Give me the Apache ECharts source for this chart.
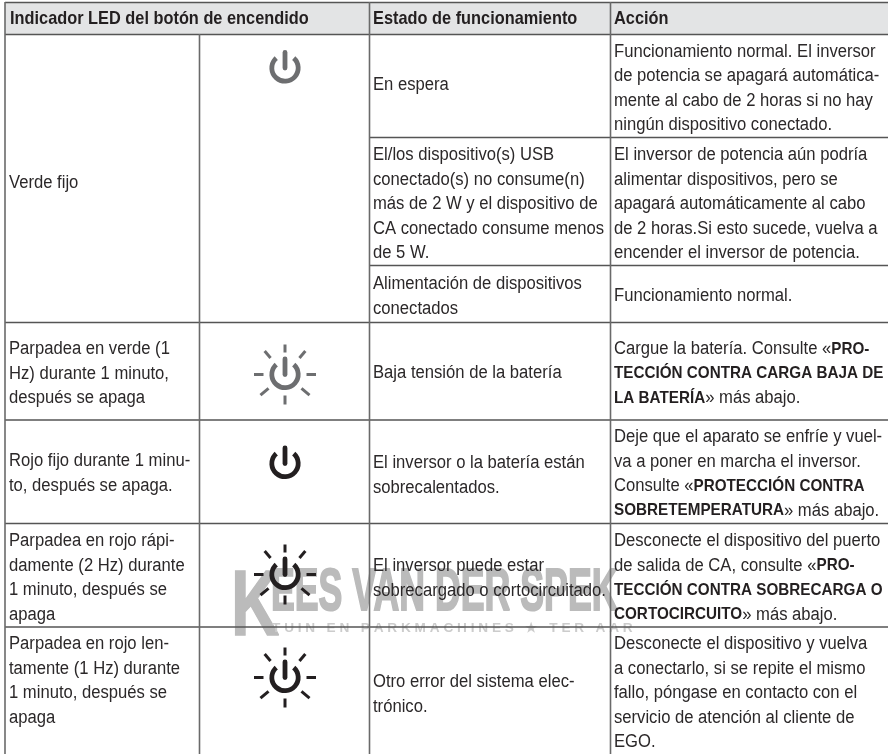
<!DOCTYPE html>
<html><head><meta charset="utf-8">
<style>html,body{margin:0;padding:0;background:#fff}#c{width:888px;height:754px}</style>
<script src="https://cdn.jsdelivr.net/npm/echarts@6/dist/echarts.min.js"></script>
</head><body><div id="c"></div>
<script>
var headers = [[10,19.5,'Indicador LED del botón de encendido'],[373,19.5,'Estado de funcionamiento'],[614,19.5,'Acción']];
var col0 = [
 [9,183,['Verde fijo']],
 [9,349.5,['Parpadea en verde (1','Hz) durante 1 minuto,','después se apaga']],
 [9,461.5,['Rojo fijo durante 1 minu-','to, después se apaga.']],
 [9,541.5,['Parpadea en rojo rápi-','damente (2 Hz) durante','1 minuto, después se','apaga']],
 [9,644.5,['Parpadea en rojo len-','tamente (1 Hz) durante','1 minuto, después se','apaga']]
];
var col2 = [
 [373,85.5,['En espera']],
 [373,155.5,['El/los dispositivo(s) USB','conectado(s) no consume(n)','más de 2 W y el dispositivo de','CA conectado consume menos','de 5 W.']],
 [373,284.5,['Alimentación de dispositivos','conectados']],
 [373,373.5,['Baja tensión de la batería']],
 [373,463.5,['El inversor o la batería están','sobrecalentados.']],
 [373,566.5,['El inversor puede estar','sobrecargado o cortocircuitado.']],
 [373,682.5,['Otro error del sistema elec-','trónico.']]
];
var col3 = [
 [614,52,['Funcionamiento normal. El inversor','de potencia se apagará automática-','mente al cabo de 2 horas si no hay','ningún dispositivo conectado.']],
 [614,155.5,['El inversor de potencia aún podría','alimentar dispositivos, pero se','apagará automáticamente al cabo','de 2 horas.Si esto sucede, vuelva a','encender el inversor de potencia.']],
 [614,296.5,['Funcionamiento normal.']],
 [614,349.5,['Cargue la batería. Consulte «{b|PRO-}','{b|TECCIÓN CONTRA CARGA BAJA DE}','{b|LA BATERÍA}» más abajo.']],
 [614,437.5,['Deje que el aparato se enfríe y vuel-','va a poner en marcha el inversor.','Consulte «{b|PROTECCIÓN CONTRA}','{b|SOBRETEMPERATURA}» más abajo.']],
 [614,541.5,['Desconecte el dispositivo del puerto','de salida de CA, consulte «{b|PRO-}','{b|TECCIÓN CONTRA SOBRECARGA O}','{b|CORTOCIRCUITO}» más abajo.']],
 [614,644.5,['Desconecte el dispositivo y vuelva','a conectarlo, si se repite el mismo','fallo, póngase en contacto con el','servicio de atención al cliente de','EGO.']]
];
var icons = [[285,68,0,0],[285,374.5,0,1],[285,463.5,1,0],[285,574.5,1,1],[285,677.5,1,1]];
var rules = [
 [5,2.5,888,2.5],[5,34.5,888,34.5],[369,137.5,888,137.5],[369,265.5,888,265.5],
 [5,322.5,888,322.5],[5,420,888,420],[5,523.5,888,523.5],[5,627,888,627],
 [5,2,5,754],[199.5,34,199.5,754],[369.5,2,369.5,754],[610.5,2,610.5,754]
];
var wmBig = 'K', wmMain = 'EES VAN DER SPEK', wmTag = 'T U I N   E N   P A R K M A C H I N E S   ★   T E R   A A R';
var LH = 24.4;
var FONT = '"Liberation Sans"';
var SIZE = 18, SX = 0.924, HEAD = 17.7, BOLD = 16.5;
function lines(cols){var o=[];cols.forEach(function(c){c[2].forEach(function(t,i){o.push([c[0],c[1]+i*LH,t]);});});return o;}
var bodyLines = lines(col0.concat(col2,col3));
var RAYS = [[90,22,30],[49,22,31],[0,21.5,31],[-40,21.5,32],[-90,21,30],[-140,21.5,32],[180,21.5,31],[131,22,31]];
var chart = echarts.init(document.getElementById('c'),null,{renderer:'canvas'});
chart.setOption({
 animation:false,
 grid:{left:0,right:0,top:0,bottom:0},
 xAxis:{type:'value',min:0,max:888,show:false},
 yAxis:{type:'value',min:0,max:754,inverse:true,show:false},
 series:[
  {type:'custom',silent:true,z:1,data:[[0]],clip:false,renderItem:function(p,api){
    var a=api.coord([5,2.5]),b=api.coord([888,34.5]);
    return {type:'rect',shape:{x:a[0],y:a[1],width:b[0]-a[0],height:b[1]-a[1]},style:{fill:'#e3e4e5'}};
  }},
  {type:'custom',silent:true,z:2,data:[[0]],renderItem:function(p,api){
    var s=api.coord([233,566]);
    var gray='#bbbbbb';
    return {type:'group',children:[
      {type:'text',x:s[0]-2,y:s[1]-3,scaleX:0.72,style:{text:wmBig,font:'bold 93px '+FONT,fill:gray,stroke:gray,lineWidth:1.5,verticalAlign:'top'}},
      {type:'text',x:s[0]+38,y:s[1]-3,scaleX:0.595,style:{text:wmMain,font:'bold 60px '+FONT,fill:gray,stroke:gray,lineWidth:2,verticalAlign:'top'}},
      {type:'text',x:s[0]+39,y:s[1]+56,scaleX:1.05,style:{text:wmTag,font:'bold 13px '+FONT,fill:'#cccccc',verticalAlign:'top'}}
    ]};
  }},
  {type:'custom',silent:true,z:3,data:rules,renderItem:function(p,api){
    var a=api.coord([api.value(0),api.value(1)]),b=api.coord([api.value(2),api.value(3)]);
    var v=a[0]===b[0];
    return {type:'line',shape:{x1:a[0],y1:a[1],x2:b[0],y2:b[1]},style:{stroke:v?'#6a6a6a':'#555',lineWidth:v?1.6:1.4}};
  }},
  {type:'custom',silent:true,z:4,data:icons,renderItem:function(p,api){
    var c=api.coord([api.value(0),api.value(1)]);
    var col=api.value(2)?'#231f20':'#6d6e70';
    var kids=[
      {type:'arc',shape:{cx:c[0],cy:c[1],r:13.2,startAngle:-Math.PI*0.27,endAngle:-Math.PI*0.73,clockwise:true},style:{stroke:col,fill:null,lineWidth:4.8}},
      {type:'line',shape:{x1:c[0],y1:c[1]-15.5,x2:c[0],y2:c[1]},style:{stroke:col,lineWidth:4.8,lineCap:'round'}}
    ];
    if(api.value(3)){RAYS.forEach(function(r){var t=r[0]*Math.PI/180,cx=Math.cos(t),sy=Math.sin(t);
      kids.push({type:'line',shape:{x1:c[0]+cx*r[1],y1:c[1]-sy*r[1],x2:c[0]+cx*r[2],y2:c[1]-sy*r[2]},style:{stroke:col,lineWidth:3}});});}
    return {type:'group',children:kids};
  }},
  {type:'custom',silent:true,z:5,data:headers.map(function(h){return [h[0],h[1]];}),renderItem:function(p,api){
    var c=api.coord([api.value(0),api.value(1)]);
    return {type:'text',x:c[0],y:c[1],scaleX:SX,style:{text:headers[p.dataIndex][2],font:'bold '+HEAD+'px '+FONT,fill:'#231f20',verticalAlign:'middle'}};
  }},
  {type:'custom',silent:true,z:5,data:bodyLines.map(function(l){return [l[0],l[1]];}),renderItem:function(p,api){
    var c=api.coord([api.value(0),api.value(1)]);
    return {type:'text',x:c[0],y:c[1],scaleX:SX,style:{text:bodyLines[p.dataIndex][2],font:SIZE+'px '+FONT,fill:'#2b2829',verticalAlign:'middle',
      rich:{b:{font:'bold '+BOLD+'px '+FONT,fill:'#231f20'}}}};
  }}
 ]
});
</script></body></html>
